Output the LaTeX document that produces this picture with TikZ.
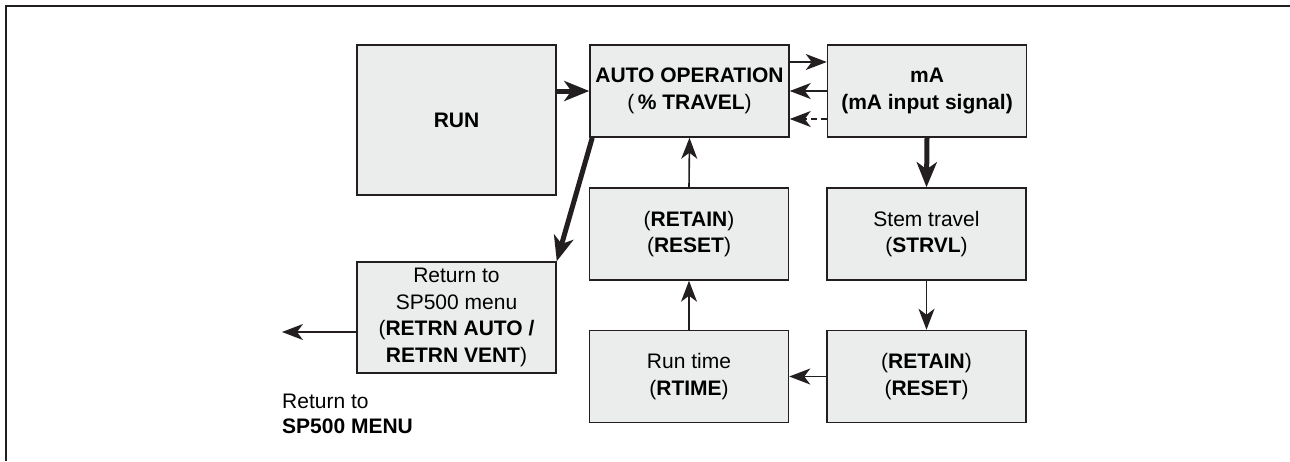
\documentclass[tikz,border=0pt]{standalone}
\usepackage{fontspec}
\setmainfont{Liberation Sans}
\usetikzlibrary{arrows.meta,calc}
\definecolor{boxfill}{RGB}{235,236,236}
\definecolor{ink}{RGB}{35,31,32}
\begin{document}
\begin{tikzpicture}[x=1pt,y=-1pt,
  box/.style={draw=ink,fill=boxfill,line width=1.5pt,minimum width=199pt,minimum height=92pt,inner sep=0pt,align=center,font=\fontsize{21}{26.5}\selectfont},
  thinarrow/.style={draw=ink,line width=1.6pt,-{Stealth[length=21pt,width=16pt,inset=6pt]}},
  thickarrow/.style={draw=ink,line width=5pt,-{Stealth[length=25pt,width=20pt,inset=7pt]}},
  plaintext/.style={inner sep=0pt,align=left,font=\fontsize{21}{24.5}\selectfont}
]
\useasboundingbox (0,0) rectangle (1290,461);
\draw[ink,line width=1.8pt] (6,461) -- (6,6) -- (1290,6);

\node[box,line width=2.6pt,minimum height=150pt] (run) at (456.5,120) {\textbf{RUN}};
\node[box] (auto) at (689.5,91) {\textbf{AUTO OPERATION}\\(\,\textbf{\% TRAVEL})};
\node[box] (ma) at (927,91) {\textbf{mA}\\\textbf{(mA input signal)}};
\node[box] (ret1) at (689,234) {(\textbf{RETAIN})\\(\textbf{RESET})};
\node[box] (stem) at (926.5,234) {Stem travel\\(\textbf{STRVL})};
\node[box] (ret2) at (926.5,376.5) {(\textbf{RETAIN})\\(\textbf{RESET})};
\node[box] (rtime) at (689,376.5) {Run time\\(\textbf{RTIME})};
\node[box,minimum height=111pt] (back) at (456.5,317.5) {Return to\\SP500 menu\\(\textbf{RETRN AUTO /}\\\textbf{RETRN VENT})};

\coordinate (exit) at (282,332);
\node[plaintext,anchor=north west] (menu) at (282,394) {Return to\\\textbf{SP500 MENU}};

\draw[thickarrow] (run.east |- auto.west) -- (auto.west);
\draw[thinarrow] ([yshift=29pt]auto.east) -- ([yshift=29pt]ma.west);
\draw[thinarrow] (ma.west) -- (auto.east);
\draw[thinarrow,dash pattern=on 6pt off 4pt] ([yshift=-28pt]ma.west) -- ([yshift=-28pt]auto.east);
\draw[thickarrow] (ma.south) -- (stem.north);
\draw[thinarrow] (stem.south) -- (ret2.north);
\draw[thinarrow] (ret2.west) -- (rtime.east);
\draw[thinarrow] (rtime.north) -- (ret1.south);
\draw[thinarrow] (ret1.north) -- (auto.south);
\draw[thickarrow] ($(auto.south west)+(3,0)$) -- (back.north east);
\draw[thinarrow] (back.west |- exit) -- (exit);
\end{tikzpicture}
\end{document}
